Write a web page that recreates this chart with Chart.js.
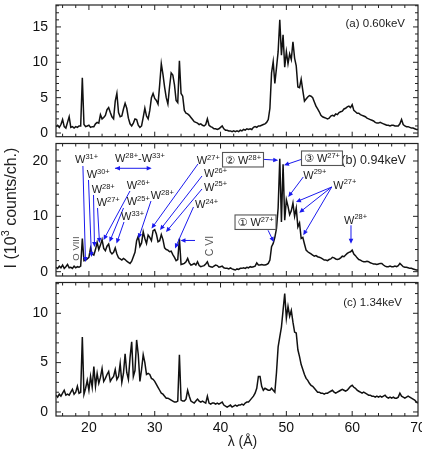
<!DOCTYPE html>
<html>
<head>
<meta charset="utf-8">
<script src="https://cdn.jsdelivr.net/npm/chart.js@4.4.0/dist/chart.umd.min.js"></script>
<style>
  body { margin: 0; background: #fff; }
  #wrap { position: relative; width: 422px; height: 457px; overflow: hidden; }
  canvas { position: absolute; left: 0; }
</style>
</head>
<body>
<div id="wrap">
  <canvas id="panelA" width="422" height="140" style="top:0px"></canvas>
  <canvas id="panelB" width="422" height="140" style="top:140px"></canvas>
  <canvas id="panelC" width="422" height="177" style="top:280px"></canvas>
</div>
<script>
// wavelength grid: 15 .. 70 A, one value every 0.25 A
const lambdaStart = 15;
const lambdaStep = 0.25;

// (a) 0.60 keV
const spectrumA = [
  0.9, 1.1, 0.8, 1.2, 1.9, 0.9, 0.7, 1.5, 2.3, 0.8, 0.9, 0.7, 0.9, 0.8, 1.0, 1.0, 7.8, 1.2, 0.9, 1.0,
  1.1, 0.8, 0.9, 0.9, 1.3, 1.5, 1.4, 2.6, 2.0, 2.2, 2.5, 3.3, 3.6, 2.9, 2.3, 2.0, 4.5, 5.6, 2.9, 2.3,
  2.4, 3.4, 4.2, 3.5, 2.1, 1.3, 1.0, 1.4, 2.0, 1.9, 1.1, 0.8, 1.0, 2.2, 3.5, 2.4, 2.0, 3.2, 5.0, 5.6,
  4.9, 4.6, 4.1, 6.8, 9.8, 8.3, 6.5, 5.0, 4.1, 6.5, 8.5, 8.2, 6.8, 4.6, 4.3, 10.2, 5.6, 5.2, 3.2, 2.8,
  2.7, 2.5, 2.2, 1.9, 1.6, 1.5, 1.4, 1.2, 1.3, 1.1, 1.0, 1.2, 2.0, 1.1, 0.9, 0.8, 0.6, 0.6, 0.5, 0.6,
  0.8, 1.0, 0.6, 0.4, 0.4, 0.3, 0.3, 0.2, 0.3, 0.2, 0.3, 0.2, 0.4, 0.3, 0.5, 0.4, 0.6, 0.5, 0.6, 0.5,
  0.8, 0.9, 0.8, 1.0, 1.0, 1.1, 1.2, 1.3, 1.5, 1.9, 3.5, 8.5, 10.1, 7.0, 9.2, 11.5, 16.0, 11.0, 13.9, 9.3,
  11.5, 9.8, 11.2, 10.4, 12.9, 10.6, 9.5, 6.5, 6.4, 7.6, 6.0, 4.5, 4.8, 5.1, 5.3, 5.2, 5.0, 4.4, 3.8, 3.4,
  3.0, 2.5, 2.3, 2.2, 2.1, 2.0, 2.1, 2.4, 2.5, 2.4, 2.7, 2.6, 2.9, 3.0, 3.1, 3.4, 3.5, 3.7, 3.8, 3.6,
  4.0, 3.2, 3.0, 2.8, 2.8, 2.6, 2.5, 2.4, 2.3, 2.1, 2.0, 1.9, 1.8, 1.7, 1.5, 1.4, 1.4, 1.5, 1.4, 1.3,
  1.2, 1.1, 1.1, 1.0, 1.1, 1.1, 1.0, 1.0, 1.0, 1.3, 1.9, 1.2, 1.0, 0.9, 0.9, 0.8, 0.7, 0.7, 0.6, 0.5,
  0.5
];

// (b) 0.94 keV
const spectrumB = [
  0.8, 0.6, 1.0, 0.7, 1.2, 0.6, 0.9, 1.3, 0.7, 0.8, 0.6, 1.0, 0.7, 0.9, 0.8, 1.0, 6.0, 2.0, 2.1, 2.3,
  2.6, 4.3, 3.2, 3.0, 4.0, 5.3, 4.0, 4.8, 5.8, 4.2, 3.8, 4.6, 5.0, 3.6, 3.2, 3.5, 4.3, 3.2, 2.5, 2.3,
  2.1, 2.4, 2.2, 1.9, 1.7, 1.5, 1.9, 2.7, 3.5, 5.6, 6.4, 4.6, 5.2, 7.2, 6.0, 5.1, 6.6, 6.2, 5.6, 7.4,
  7.6, 6.8, 5.4, 5.6, 6.7, 5.8, 4.3, 4.0, 3.9, 3.6, 3.7, 3.1, 2.6, 2.0, 2.2, 6.0, 1.3, 1.4, 1.5, 1.8,
  2.4, 1.6, 1.2, 1.3, 1.5, 1.2, 1.8, 1.1, 0.9, 1.0, 1.1, 1.4, 1.8, 1.0, 0.9, 0.8, 1.0, 1.2, 1.1, 0.8,
  0.9, 1.0, 0.7, 0.6, 0.6, 0.5, 0.7, 0.5, 0.4, 0.3, 0.5, 0.4, 0.6, 0.6, 0.7, 0.6, 0.8, 0.7, 0.9, 0.8,
  0.9, 1.0, 1.6, 1.2, 1.2, 1.3, 1.2, 1.2, 1.3, 1.5, 2.1, 4.5, 5.1, 6.2, 7.8, 11.5, 20.4, 9.0, 19.4, 9.3,
  13.0, 11.8, 10.3, 11.0, 12.4, 10.0, 11.5, 8.1, 8.8, 6.0, 6.2, 5.0, 3.9, 3.6, 3.4, 3.2, 3.0, 2.8, 2.9, 2.7,
  2.6, 2.5, 2.3, 2.1, 2.1, 2.0, 2.2, 2.3, 2.6, 2.5, 2.3, 2.2, 2.3, 2.5, 2.8, 2.7, 3.0, 3.3, 3.5, 3.6,
  3.9, 3.2, 2.9, 2.5, 2.2, 2.1, 1.9, 1.8, 1.8, 1.9, 1.8, 1.6, 1.5, 1.4, 1.4, 1.3, 1.4, 1.5, 1.5, 1.2,
  1.0, 0.9, 0.9, 1.0, 0.9, 0.9, 1.0, 0.9, 1.1, 1.5, 1.2, 0.9, 0.8, 0.8, 0.7, 0.6, 0.6, 0.5, 0.4, 0.3,
  0.3
];

// (c) 1.34 keV
const spectrumC = [
  1.7, 1.5, 1.8, 1.6, 1.9, 2.2, 1.7, 1.8, 1.7, 2.0, 2.3, 1.8, 2.0, 2.6, 1.9, 2.0, 7.6, 1.8, 2.4, 3.2,
  2.2, 3.6, 2.5, 4.6, 2.6, 3.9, 2.9, 3.5, 4.4, 3.1, 3.4, 3.8, 4.1, 3.1, 3.4, 3.6, 4.3, 3.3, 3.6, 4.9,
  3.0, 3.9, 5.9, 4.0, 3.3, 5.5, 7.1, 3.6, 4.2, 7.3, 5.8, 3.1, 4.3, 5.8, 5.0, 3.8, 3.9, 3.8, 3.4, 3.3,
  3.1, 2.8, 2.5, 2.2, 1.9, 1.8, 1.6, 1.4, 1.4, 1.3, 1.2, 1.1, 1.0, 1.0, 1.1, 5.8, 1.2, 1.1, 1.1, 1.3,
  2.2, 1.6, 1.1, 1.0, 0.9, 1.1, 1.3, 1.1, 1.0, 1.1, 1.0, 0.9, 1.6, 0.9, 0.8, 0.9, 0.9, 0.8, 0.9, 0.8,
  0.9, 1.0, 0.7, 0.6, 0.5, 0.6, 0.7, 0.5, 0.6, 0.7, 0.6, 0.7, 0.7, 0.8, 0.7, 0.9, 1.0, 1.0, 1.2, 1.4,
  1.6, 1.9, 2.4, 3.6, 3.6, 2.6, 2.2, 2.4, 2.3, 2.2, 2.2, 2.4, 2.2, 2.0, 4.0, 6.6, 7.6, 8.6, 10.3, 12.0,
  9.5, 10.7, 9.7, 10.3, 9.1, 8.1, 8.0, 6.3, 5.6, 4.8, 4.3, 3.8, 3.4, 3.2, 2.9, 2.7, 2.6, 2.4, 2.2, 2.0,
  2.0, 1.9, 1.9, 1.8, 1.9, 1.9, 2.0, 2.1, 2.2, 2.0, 1.9, 2.0, 2.1, 2.2, 2.3, 2.2, 2.1, 2.2, 2.4, 2.6,
  2.7, 2.5, 2.4, 2.2, 2.1, 2.0, 1.9, 2.0, 1.9, 1.8, 1.7, 1.7, 1.6, 1.6, 1.5, 1.6, 1.5, 1.6, 1.5, 1.6,
  1.7, 1.5, 1.4, 1.5, 1.4, 1.5, 1.4, 1.4, 1.5, 1.9, 1.6, 1.5, 1.4, 1.5, 1.6, 1.5, 1.4, 1.3, 1.2, 1.0,
  0.9
];

const xTickLabels = [20, 30, 40, 50, 60, 70];
const yTicksA = [0, 5, 10, 15];
const yTicksB = [0, 10, 20];
const yTicksC = [0, 5, 10];

const wavelength = spectrumA.map((_, i) => lambdaStart + i * lambdaStep);

const FONT = '"Liberation Sans", Arial, "DejaVu Sans", sans-serif';
const BLUE = '#1a1aee';

// labels of panel (b), positions in data units (lambda, intensity)
const bLabels = [
  { t: 'W^{31+}', x: 17.89, y: 19.55 },
  { t: 'W^{30+}', x: 19.66, y: 16.93 },
  { t: 'W^{28+}', x: 20.42, y: 14.22 },
  { t: 'W^{27+}', x: 21.18, y: 11.78 },
  { t: 'W^{26+}', x: 25.74, y: 14.94 },
  { t: 'W^{25+}', x: 25.74, y: 12.05 },
  { t: 'W^{33+}', x: 24.88, y: 9.25 },
  { t: 'W^{28+}', x: 29.39, y: 13.13 },
  { t: 'W^{27+}', x: 36.38, y: 19.46 },
  { t: 'W^{26+}', x: 37.49, y: 17.06 },
  { t: 'W^{25+}', x: 37.49, y: 14.63 },
  { t: 'W^{24+}', x: 36.12, y: 11.51 },
  { t: 'W^{28+}-W^{33+}', x: 23.96, y: 19.82 },
  { t: 'W^{29+}', x: 52.57, y: 16.80 },
  { t: 'W^{27+}', x: 57.13, y: 15.0 },
  { t: 'W^{28+}', x: 58.76, y: 8.67 },
  { t: '\u2461 W^{28+}', x: 40.68, y: 19.46, box: true },
  { t: '\u2462 W^{27+}', x: 52.68, y: 19.73, box: true },
  { t: '\u2460 W^{27+}', x: 42.58, y: 8.17, box: true }
];
const bVertical = [
  { t: 'O VIII', x: 18.04, y: 4.19, size: 9.5 },
  { t: 'C VI', x: 38.40, y: 4.64, size: 10.5 }
];
// [x1, y1, x2, y2, doubleHeaded]
const bArrows = [
  [19.09, 19.1, 19.48, 1.75],
  [19.94, 16.57, 20.39, 2.66],
  [20.70, 13.86, 20.85, 4.46],
  [21.31, 11.51, 21.61, 5.19],
  [26.24, 14.58, 22.22, 5.73],
  [25.26, 11.51, 23.13, 5.37],
  [25.33, 8.98, 24.19, 5.09],
  [29.43, 12.77, 27.53, 6.0],
  [36.57, 19.46, 29.51, 7.8],
  [37.18, 17.29, 30.80, 7.53],
  [37.18, 14.94, 31.71, 7.17],
  [35.89, 11.69, 33.08, 4.19],
  [23.96, 18.68, 29.54, 18.68, true],
  [36.12, 5.64, 33.92, 5.64],
  [46.30, 20.31, 48.77, 20.13],
  [52.33, 20.31, 49.64, 19.22],
  [52.57, 17.11, 50.29, 13.50],
  [56.89, 15.30, 51.46, 12.59],
  [56.89, 15.30, 51.96, 10.66],
  [56.89, 15.30, 52.57, 6.58],
  [47.22, 7.48, 48.08, 5.37],
  [59.82, 8.38, 59.82, 5.06]
];

// draw "W^{28+}" style text, returns width
function richText(ctx, str, x, y, size, draw) {
  const parts = str.split(/\^\{([^}]*)\}/);
  let cx = x;
  parts.forEach((p, i) => {
    if (!p) return;
    const sup = i % 2 === 1;
    ctx.font = (sup ? size * 0.68 : size) + 'px ' + FONT;
    if (draw) ctx.fillText(p, cx, sup ? y - size * 0.4 : y);
    cx += ctx.measureText(p).width;
  });
  return cx - x;
}

function arrowHead(ctx, x, y, ang) {
  const L = 5, W = 2.3;
  ctx.beginPath();
  ctx.moveTo(x, y);
  ctx.lineTo(x - L * Math.cos(ang) + W * Math.sin(ang), y - L * Math.sin(ang) - W * Math.cos(ang));
  ctx.lineTo(x - L * Math.cos(ang) - W * Math.sin(ang), y - L * Math.sin(ang) + W * Math.cos(ang));
  ctx.closePath();
  ctx.fill();
}

const framePlugin = {
  id: 'frame',
  afterDatasetsDraw(chart, args, o) {
    const { ctx, chartArea: a, scales: { x, y } } = chart;
    ctx.save();
    ctx.strokeStyle = '#222';
    ctx.lineWidth = 1;
    ctx.beginPath();
    for (let v = 16; v <= 68; v += 2) {
      const px = x.getPixelForValue(v);
      const len = v % 10 === 0 ? 5 : 3;
      ctx.moveTo(px, a.bottom); ctx.lineTo(px, a.bottom - len);
      ctx.moveTo(px, a.top); ctx.lineTo(px, a.top + len);
    }
    for (let v = 0; v <= y.max; v += o.yMinor) {
      const py = y.getPixelForValue(v);
      const len = v % o.yMajor === 0 ? 5 : 3;
      ctx.moveTo(a.left, py); ctx.lineTo(a.left + len, py);
      ctx.moveTo(a.right, py); ctx.lineTo(a.right - len, py);
    }
    ctx.stroke();
    ctx.lineWidth = 1.2;
    ctx.strokeRect(a.left, a.top, a.right - a.left, a.bottom - a.top);

    ctx.fillStyle = '#222';
    ctx.font = o.labelSize + 'px ' + FONT;
    ctx.textAlign = 'right';
    ctx.textBaseline = 'alphabetic';
    ctx.fillText(o.label, x.getPixelForValue(o.labelX), y.getPixelForValue(o.labelY));

    if (o.yTitle) {
      ctx.save();
      ctx.translate(15.5, chart.height / 2 - 2);
      ctx.rotate(-Math.PI / 2);
      ctx.textAlign = 'left';
      const w = richText(ctx, 'I (10^{3} counts/ch.)', 0, 0, 16, false);
      richText(ctx, 'I (10^{3} counts/ch.)', -w / 2, 0, 16, true);
      ctx.restore();
    }
    if (o.xTitle) {
      ctx.font = '14px ' + FONT;
      ctx.textAlign = 'center';
      ctx.fillText('\u03bb (\u00c5)', 242.5, 166);
    }
    ctx.restore();
  }
};

const notesPlugin = {
  id: 'notes',
  afterDatasetsDraw(chart) {
    const { ctx, scales: { x, y } } = chart;
    ctx.save();
    ctx.strokeStyle = BLUE;
    ctx.fillStyle = BLUE;
    ctx.lineWidth = 1;
    bArrows.forEach(([x1, y1, x2, y2, both]) => {
      const p1 = [x.getPixelForValue(x1), y.getPixelForValue(y1)];
      const p2 = [x.getPixelForValue(x2), y.getPixelForValue(y2)];
      const ang = Math.atan2(p2[1] - p1[1], p2[0] - p1[0]);
      ctx.beginPath();
      ctx.moveTo(p1[0], p1[1]);
      ctx.lineTo(p2[0] - 3 * Math.cos(ang), p2[1] - 3 * Math.sin(ang));
      ctx.stroke();
      arrowHead(ctx, p2[0], p2[1], ang);
      if (both) arrowHead(ctx, p1[0], p1[1], ang + Math.PI);
    });

    ctx.textAlign = 'left';
    ctx.textBaseline = 'alphabetic';
    bLabels.forEach(l => {
      const px = x.getPixelForValue(l.x);
      const py = y.getPixelForValue(l.y);
      if (l.box) {
        const w = richText(ctx, l.t, px, py, 11, false);
        ctx.fillStyle = '#fff';
        ctx.fillRect(px - 2.5, py - 11.5, w + 5, 14.5);
        ctx.strokeStyle = '#555';
        ctx.lineWidth = 1.1;
        ctx.strokeRect(px - 2.5, py - 11.5, w + 5, 14.5);
      }
      ctx.fillStyle = '#222';
      richText(ctx, l.t, px, py, 11, true);
    });

    ctx.fillStyle = '#555';
    ctx.textAlign = 'center';
    ctx.textBaseline = 'middle';
    bVertical.forEach(l => {
      ctx.save();
      ctx.translate(x.getPixelForValue(l.x), y.getPixelForValue(l.y));
      ctx.rotate(-Math.PI / 2);
      ctx.font = l.size + 'px ' + FONT;
      ctx.fillText(l.t, 0, 0);
      ctx.restore();
    });
    ctx.restore();
  }
};

function makePanel(id, values, cfg) {
  return new Chart(document.getElementById(id), {
    type: 'line',
    data: {
      datasets: [{
        data: values.map((v, i) => ({ x: wavelength[i], y: v })),
        borderColor: '#111',
        borderWidth: 1.5,
        pointRadius: 0,
        tension: 0,
        fill: false
      }]
    },
    options: {
      responsive: false,
      animation: false,
      layout: { padding: { left: 0, right: 4, top: cfg.padTop, bottom: cfg.padBottom } },
      plugins: {
        legend: { display: false },
        tooltip: { enabled: false },
        frame: cfg.frame
      },
      scales: {
        x: {
          type: 'linear',
          min: 15,
          max: 70,
          display: cfg.showX,
          grid: { display: false, drawTicks: false },
          border: { display: false },
          ticks: { padding: 4, color: '#111', font: { family: FONT, size: 14 }, maxRotation: 0, autoSkip: false },
          afterBuildTicks: s => { s.ticks = xTickLabels.map(v => ({ value: v })); },
          afterFit: s => { s.height = cfg.showX ? 41 : 0; s.paddingLeft = 0; s.paddingRight = 0; }
        },
        y: {
          min: cfg.yMin,
          max: cfg.yMax,
          grid: { display: false, drawTicks: false },
          border: { display: false },
          ticks: { padding: 8, color: '#111', font: { family: FONT, size: 14 } },
          afterBuildTicks: s => { s.ticks = cfg.yTicks.map(v => ({ value: v })); },
          afterFit: s => { s.width = 56; s.paddingTop = 0; s.paddingBottom = 0; }
        }
      }
    },
    plugins: cfg.notes ? [framePlugin, notesPlugin] : [framePlugin]
  });
}

makePanel('panelA', spectrumA, {
  padTop: 5, padBottom: 3.3, showX: false, yMin: -0.52, yMax: 18.1, yTicks: yTicksA,
  frame: { yMinor: 1, yMajor: 5, label: '(a) 0.60keV', labelSize: 11.5, labelX: 68.02, labelY: 15.06 }
});
makePanel('panelB', spectrumB, {
  padTop: 3.5, padBottom: 4, showX: false, yMin: -0.78, yMax: 23.16, yTicks: yTicksB, notes: true,
  frame: { yMinor: 2, yMajor: 10, label: '(b) 0.94keV', labelSize: 12.5, labelX: 68.17, labelY: 19.46, yTitle: true }
});
makePanel('panelC', spectrumC, {
  padTop: 2.5, padBottom: 0, showX: true, yMin: -0.41, yMax: 13.12, yTicks: yTicksC,
  frame: { yMinor: 1, yMajor: 5, label: '(c) 1.34keV', labelSize: 11.5, labelX: 67.57, labelY: 10.69, xTitle: true }
});
</script>
</body>
</html>
